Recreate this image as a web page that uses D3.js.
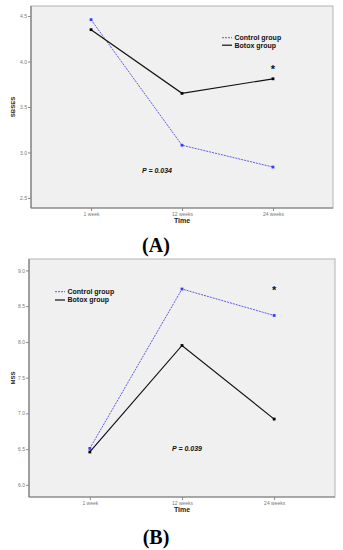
<!DOCTYPE html>
<html><head><meta charset="utf-8">
<script src="https://cdn.jsdelivr.net/npm/d3@7"></script>
<style>body{margin:0;background:#fff}svg{display:block}</style>
</head><body>
<script>
const timepoints = ["1 week", "12 weeks", "24 weeks"];
const seriesNames = ["Control group", "Botox group"];
// Panel A: SBSES
const sbsesControl = [4.46, 3.08, 2.84];
const sbsesBotox = [4.35, 3.65, 3.81];
const sbsesTicks = [2.5, 3.0, 3.5, 4.0, 4.5];
// Panel B: MSS
const mssControl = [6.51, 8.74, 8.37];
const mssBotox = [6.46, 7.95, 6.92];
const mssTicks = [6.0, 6.5, 7.0, 7.5, 8.0, 8.5, 9.0];

const svg = d3.select("body").append("svg").attr("width", 343).attr("height", 550);

function panel(cfg) {
  const x = d3.scalePoint().domain(timepoints).range([cfg.left, cfg.right]).padding(0.66);
  const y = d3.scaleLinear().domain(cfg.domain).range([cfg.bottom, cfg.top]);
  const g = svg.append("g");
  g.append("rect").attr("x", cfg.left).attr("y", cfg.top)
    .attr("width", cfg.right - cfg.left).attr("height", cfg.bottom - cfg.top)
    .attr("fill", "#f0f0f0").attr("stroke", "#b4b4b4").attr("stroke-width", 1);
  const ya = g.append("g").attr("transform", `translate(${cfg.left},0)`)
    .call(d3.axisLeft(y).tickValues(cfg.ticks).tickFormat(d3.format(".1f")).tickSize(3).tickPadding(1));
  const xa = g.append("g").attr("transform", `translate(0,${cfg.bottom})`)
    .call(d3.axisBottom(x).tickSize(3).tickPadding(1));
  [ya, xa].forEach(a => {
    a.select(".domain").attr("stroke", "#7a7a7a").attr("stroke-width", 1.2);
    a.selectAll(".tick line").attr("stroke", "#888");
    a.selectAll(".tick text").attr("fill", "#777").attr("font-family", "Liberation Sans, Arial, sans-serif").attr("font-size", 5);
  });
  xa.select(".domain").attr("d", `M${cfg.left},0H${cfg.right}`);
  ya.select(".domain").attr("d", `M0,${cfg.top}V${cfg.bottom}`);

  const line = d3.line().x((d, i) => x(timepoints[i])).y(d => y(d));
  g.append("path").datum(cfg.control).attr("d", line).attr("fill", "none")
    .attr("stroke", "#5a5ae6").attr("stroke-width", 1).attr("stroke-dasharray", "2,1");
  g.append("path").datum(cfg.botox).attr("d", line).attr("fill", "none")
    .attr("stroke", "#111").attr("stroke-width", 1.2);
  g.selectAll(".mc").data(cfg.control).enter().append("rect")
    .attr("x", (d, i) => x(timepoints[i]) - 1.4).attr("y", d => y(d) - 1.4)
    .attr("width", 2.8).attr("height", 2.8).attr("fill", "#3c3cff");
  g.selectAll(".mb").data(cfg.botox).enter().append("rect")
    .attr("x", (d, i) => x(timepoints[i]) - 1.4).attr("y", d => y(d) - 1.4)
    .attr("width", 2.8).attr("height", 2.8).attr("fill", "#000");

  // legend
  const lg = g.append("g").attr("transform", `translate(${cfg.legX},${cfg.legY})`);
  lg.append("line").attr("x1", 0).attr("x2", 10).attr("y1", 0).attr("y2", 0)
    .attr("stroke", "#5a5ae6").attr("stroke-width", 1).attr("stroke-dasharray", "2,1");
  lg.append("line").attr("x1", 0).attr("x2", 10).attr("y1", cfg.legGap).attr("y2", cfg.legGap)
    .attr("stroke", "#111").attr("stroke-width", 1.2);
  seriesNames.forEach((s, i) => {
    lg.append("text").attr("x", 12.5).attr("y", i * cfg.legGap + 2.4).text(s)
      .attr("font-family", "Liberation Sans, Arial, sans-serif").attr("font-weight", "bold")
      .attr("font-size", cfg.legSize).attr("fill", "#111");
  });

  // star
  g.append("text").attr("x", x(timepoints[2])).attr("y", cfg.starY).attr("text-anchor", "middle")
    .attr("font-family", "Liberation Sans, Arial, sans-serif").attr("font-weight", "bold")
    .attr("font-size", 11).attr("fill", "#111").text("*");
  // p-value
  g.append("text").attr("x", cfg.pX).attr("y", cfg.pY).attr("text-anchor", "middle")
    .attr("font-family", "Liberation Sans, Arial, sans-serif").attr("font-weight", "bold")
    .attr("font-style", "italic").attr("font-size", 7).attr("fill", "#111").text(cfg.pText);
  // axis titles
  g.append("text").attr("x", x(timepoints[1]))
    .attr("y", cfg.bottom + 14.5).attr("text-anchor", "middle")
    .attr("font-family", "Liberation Sans, Arial, sans-serif").attr("font-weight", "bold")
    .attr("font-size", 7).attr("fill", "#222").text("Time");
  g.append("text").attr("transform", `translate(14.5,${(cfg.top + cfg.bottom) / 2}) rotate(-90)`)
    .attr("text-anchor", "middle")
    .attr("font-family", "Liberation Sans, Arial, sans-serif").attr("font-weight", "bold")
    .attr("font-size", 6).attr("fill", "#222").text(cfg.yTitle);
  // panel label
  g.append("text").attr("x", 156).attr("y", cfg.labelY).attr("text-anchor", "middle")
    .attr("font-family", "Liberation Serif, Times New Roman, serif").attr("font-weight", "bold")
    .attr("font-size", 20).attr("fill", "#000").text(cfg.label);
}

panel({left: 31, right: 333, top: 6, bottom: 208, domain: [2.39, 4.61], ticks: sbsesTicks,
  control: sbsesControl, botox: sbsesBotox, legX: 222, legY: 37.7, legGap: 7.5, legSize: 7,
  starY: 72.5, pX: 157, pY: 172.5, pText: "P = 0.034", yTitle: "SBSES", label: "(A)", labelY: 252});
panel({left: 29, right: 335, top: 259, bottom: 497, domain: [5.83, 9.16], ticks: mssTicks,
  control: mssControl, botox: mssBotox, legX: 55, legY: 291.7, legGap: 8.3, legSize: 7,
  starY: 294, pX: 187, pY: 450.5, pText: "P = 0.039", yTitle: "MSS", label: "(B)", labelY: 544});
</script>
</body></html>
